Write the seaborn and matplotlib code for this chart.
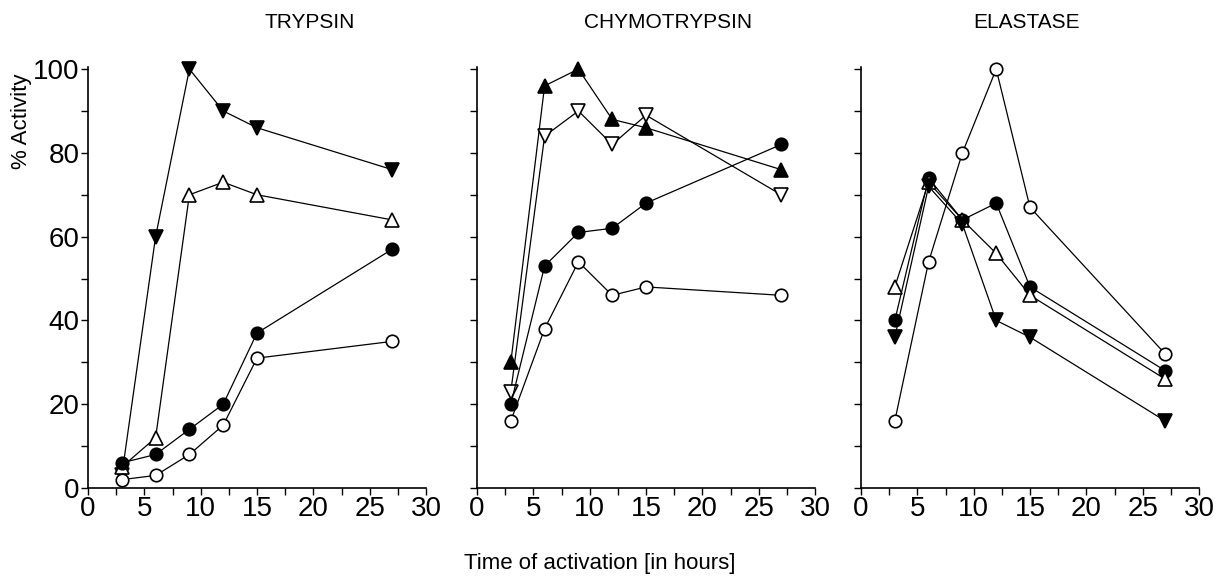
import numpy as np
import pandas as pd
import seaborn as sns
import matplotlib.pyplot as plt
from matplotlib.ticker import MultipleLocator

# time points (hours)
hours = [3, 6, 9, 12, 15, 27]

# TRYPSIN
tryp_filled_down = [3, 60, 100, 90, 86, 76]
tryp_open_up = [5, 12, 70, 73, 70, 64]
tryp_filled_circle = [6, 8, 14, 20, 37, 57]
tryp_open_circle = [2, 3, 8, 15, 31, 35]

# CHYMOTRYPSIN
chymo_filled_up = [30, 96, 100, 88, 86, 76]
chymo_open_down = [23, 84, 90, 82, 89, 70]
chymo_filled_circle = [20, 53, 61, 62, 68, 82]
chymo_open_circle = [16, 38, 54, 46, 48, 46]

# ELASTASE
elast_open_circle = [16, 54, 80, 100, 67, 32]
elast_filled_circle = [40, 74, 64, 68, 48, 28]
elast_open_up = [48, 73, 64, 56, 46, 26]
elast_filled_down = [36, 72, 63, 40, 36, 16]

panel_titles = ["TRYPSIN", "CHYMOTRYPSIN", "ELASTASE"]
title_x = [0.657, 0.565, 0.49]

sns.set_style("ticks")
plt.rcParams['font.family'] = ['Liberation Sans', 'DejaVu Sans']
plt.rcParams['text.color'] = 'black'
plt.rcParams['xtick.color'] = 'black'
plt.rcParams['ytick.color'] = 'black'
plt.rcParams['axes.labelcolor'] = 'black'

# (values, marker, filled)
panels = [
    [(tryp_filled_down, 'v', True), (tryp_open_up, '^', False),
     (tryp_filled_circle, 'o', True), (tryp_open_circle, 'o', False)],
    [(chymo_filled_up, '^', True), (chymo_open_down, 'v', False),
     (chymo_filled_circle, 'o', True), (chymo_open_circle, 'o', False)],
    [(elast_open_circle, 'o', False), (elast_filled_circle, 'o', True),
     (elast_open_up, '^', False), (elast_filled_down, 'v', True)],
]

fig = plt.figure(figsize=(12.16, 5.77), dpi=100)
lefts = [88 / 1216, 477 / 1216, 861 / 1216]
width = 338 / 1216
bottom = 1 - 488 / 577
height = (488 - 67) / 577

for i, series in enumerate(panels):
    ax = fig.add_axes([lefts[i], bottom, width, height])
    for vals, mk, filled in series:
        df = pd.DataFrame({'hours': hours, 'activity': vals})
        sns.lineplot(data=df, x='hours', y='activity', ax=ax, color='black',
                     linewidth=0.9, marker=mk, markersize=9 if mk == 'o' else 10,
                     markerfacecolor='black' if filled else 'white',
                     markeredgecolor='black', markeredgewidth=1.2,
                     clip_on=False, zorder=3)
    ax.set_xlim(0, 30)
    ax.set_ylim(0, 100.5)
    ax.xaxis.set_major_locator(MultipleLocator(5))
    ax.xaxis.set_minor_locator(MultipleLocator(2.5))
    ax.yaxis.set_major_locator(MultipleLocator(20))
    ax.yaxis.set_minor_locator(MultipleLocator(10))
    ax.tick_params(which='both', direction='out', length=5, width=1,
                   labelsize=20, pad=1, color='black', labelcolor='black')
    ax.set_xlabel('')
    ax.set_ylabel('')
    sns.despine(ax=ax)
    for s in ['left', 'bottom']:
        ax.spines[s].set_linewidth(1.2)
        ax.spines[s].set_color('black')
    if i > 0:
        ax.tick_params(labelleft=False)
    ax.text(title_x[i], 1 + (67 - 23) / (488 - 67), panel_titles[i],
            transform=ax.transAxes, ha='center', va='center', fontsize=15)

fig.text(600 / 1216, 1 - 563 / 577, 'Time of activation [in hours]',
         ha='center', va='center', fontsize=16)
fig.text(22 / 1216, 1 - 121 / 577, '% Activity', rotation=90,
         ha='center', va='center', fontsize=16)

fig.savefig('out.png', dpi=100)
